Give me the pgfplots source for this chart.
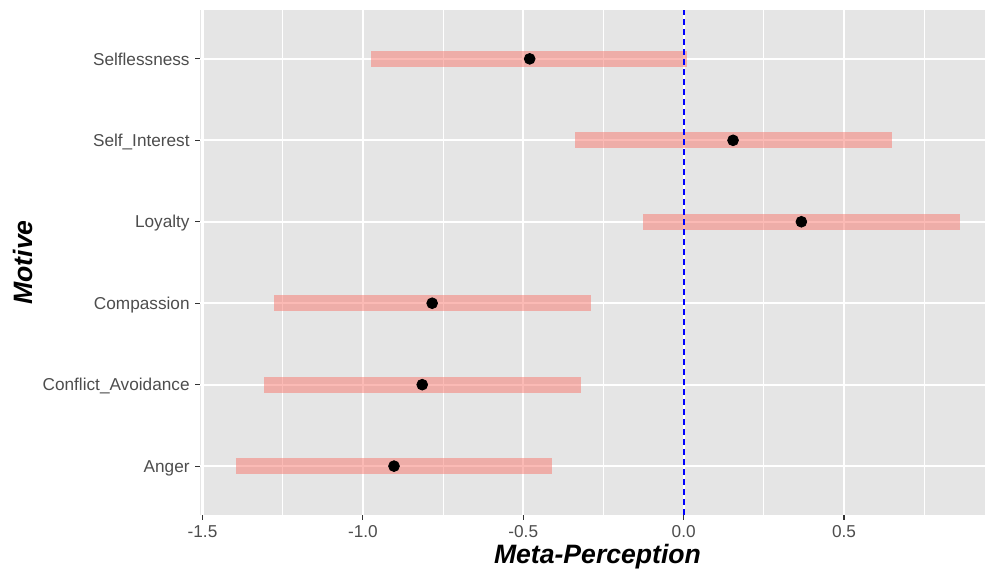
\documentclass[border=0pt]{standalone}
\usepackage{pgfplots}
\pgfplotsset{compat=1.18}
\usepackage{fontspec}
\setmainfont{Liberation Sans}
\definecolor{panelbg}{HTML}{E5E5E5}
\definecolor{barcol}{HTML}{F8766D}
\definecolor{ticktxt}{HTML}{4D4D4D}
\definecolor{tickcol}{HTML}{333333}
\begin{document}
\begin{tikzpicture}
\useasboundingbox (0,0) rectangle (492.5pt,286pt);
\begin{axis}[
  at={(100pt,28.5pt)}, anchor=south west,
  scale only axis, width=392.5pt, height=252.5pt,
  xmin=-1.5078, xmax=0.9395, ymin=0.4, ymax=6.6,
  axis background/.style={fill=panelbg},
  axis line style={draw=none},
  xtick={-1.5,-1,-0.5,0,0.5},
  xticklabels={-1.5,-1.0,-0.5,0.0,0.5},
  minor xtick={-1.25,-0.75,-0.25,0.25,0.75},
  ytick={1,2,3,4,5,6},
  yticklabels={Anger,Conflict\_Avoidance,Compassion,Loyalty,Self\_Interest,Selflessness},
  xtick pos=bottom, ytick pos=left,
  tick align=outside, major tick length=2.5pt, minor tick length=0pt,
  tick style={tickcol, line width=0.55pt},
  grid=both,
  major grid style={white, line width=1.1pt},
  minor grid style={white, line width=0.55pt},
  ticklabel style={font=\fontsize{8.6}{10}\selectfont, text=ticktxt},
  xticklabel style={inner sep=0pt, anchor=north, yshift=-2.5pt},
  yticklabel style={inner sep=0pt, anchor=base east, xshift=-2.5pt, yshift=-3.1pt},
  xlabel={Meta-Perception},
  ylabel={Motive},
  xlabel style={font=\fontsize{13.3}{15}\selectfont\bfseries\itshape, at={(axis description cs:0.5,0)}, anchor=base, yshift=-24.5pt, xshift=2.5pt},
  ylabel style={font=\fontsize{13.3}{15}\selectfont\bfseries\itshape, at={([xshift=-83.5pt]axis description cs:0,0.5)}, anchor=base, rotate=0},
  clip=false,
]
% confidence bars
\addplot[barcol, opacity=0.5, line width=8pt, line cap=butt] coordinates {(-0.974,6) (0.0106,6)};
\addplot[barcol, opacity=0.5, line width=8pt, line cap=butt] coordinates {(-0.338,5) (0.649,5)};
\addplot[barcol, opacity=0.5, line width=8pt, line cap=butt] coordinates {(-0.126,4) (0.862,4)};
\addplot[barcol, opacity=0.5, line width=8pt, line cap=butt] coordinates {(-1.276,3) (-0.289,3)};
\addplot[barcol, opacity=0.5, line width=8pt, line cap=butt] coordinates {(-1.308,2) (-0.320,2)};
\addplot[barcol, opacity=0.5, line width=8pt, line cap=butt] coordinates {(-1.396,1) (-0.410,1)};
% reference line
\addplot[blue, line width=0.9pt, dash pattern=on 3pt off 2pt] coordinates {(0,0.4) (0,6.6)};
% point estimates
\addplot[only marks, mark=*, mark size=2.7pt, black] coordinates {
(-0.480,6) (0.154,5) (0.367,4) (-0.784,3) (-0.815,2) (-0.903,1)};
\end{axis}
\end{tikzpicture}
\end{document}
